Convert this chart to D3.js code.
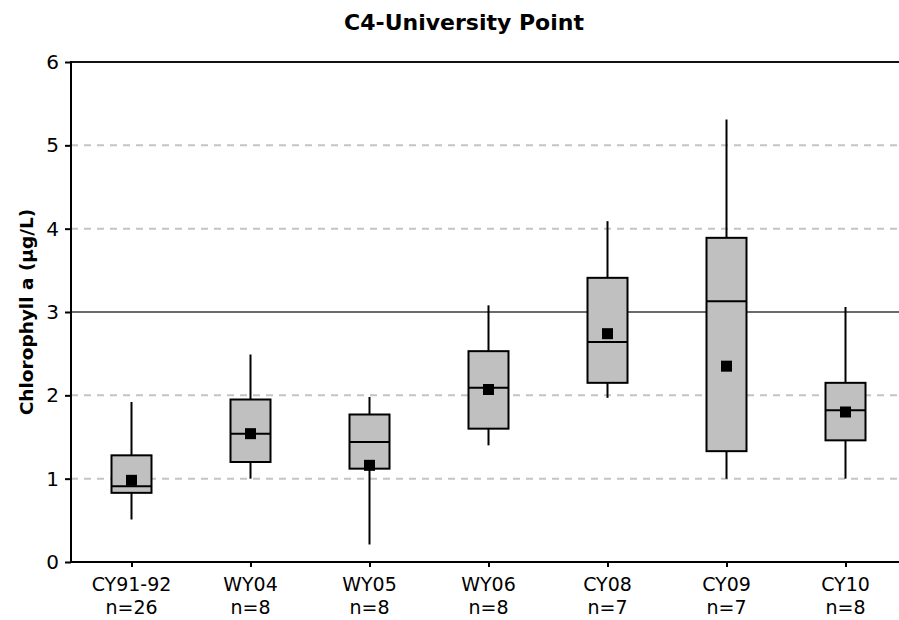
<!DOCTYPE html>
<html>
<head>
<meta charset="utf-8">
<script src="https://cdn.jsdelivr.net/npm/d3@7"></script>
<style>
  html, body { margin: 0; padding: 0; background: #fff; }
  svg { display: block; font-family: "DejaVu Sans", Verdana, sans-serif; }
</style>
</head>
<body>
<svg id="chart" width="899" height="620"></svg>
<script>
// Sampling periods and their sample counts
const periods = ["CY91-92", "WY04", "WY05", "WY06", "CY08", "CY09", "CY10"];
const sampleCounts = [26, 8, 8, 8, 7, 7, 8];

// Box-plot statistics, chlorophyll a (µg/L)
const whiskerLow  = [0.51, 1.00, 0.21, 1.40, 1.97, 1.00, 1.00];
const quartile1   = [0.83, 1.20, 1.12, 1.60, 2.15, 1.33, 1.46];
const medians     = [0.91, 1.54, 1.44, 2.09, 2.64, 3.13, 1.82];
const quartile3   = [1.28, 1.95, 1.77, 2.53, 3.41, 3.89, 2.15];
const whiskerHigh = [1.92, 2.49, 1.98, 3.08, 4.09, 5.31, 3.06];
const means       = [0.98, 1.54, 1.16, 2.07, 2.74, 2.35, 1.80];

const yTicks = [0, 1, 2, 3, 4, 5, 6];
const dashedGrid = [1, 2, 4, 5];
const referenceLevel = 3;

const svg = d3.select("#chart");
const plotLeft = 71, plotTop = 62, plotBottom = 562, plotRight = 899;

const x = d3.scalePoint().domain(periods).range([72, 905]).padding(0.5);
const y = d3.scaleLinear().domain([0, 6]).range([plotBottom, plotTop]);
const boxW = 40, meanSize = 11;

// Title
svg.append("text")
  .attr("x", 464).attr("y", 30)
  .attr("text-anchor", "middle")
  .attr("font-size", 22).attr("font-weight", "bold")
  .text("C4-University Point");

// Y-axis title
svg.append("text")
  .attr("transform", `translate(33,${(plotTop + plotBottom) / 2}) rotate(-90)`)
  .attr("text-anchor", "middle")
  .attr("font-size", 18.5).attr("font-weight", "bold")
  .text("Chlorophyll a (µg/L)");

// Dashed gridlines
svg.append("g").selectAll("line").data(dashedGrid).join("line")
  .attr("x1", plotLeft).attr("x2", plotRight)
  .attr("y1", d => y(d)).attr("y2", d => y(d))
  .attr("stroke", "#c4c4c4").attr("stroke-width", 2)
  .attr("stroke-dasharray", "7,6");

// Reference line and top border
svg.append("line")
  .attr("x1", plotLeft).attr("x2", plotRight)
  .attr("y1", y(referenceLevel)).attr("y2", y(referenceLevel))
  .attr("stroke", "#3a3a3a").attr("stroke-width", 1.5);
svg.append("line")
  .attr("x1", plotLeft).attr("x2", plotRight)
  .attr("y1", y(6)).attr("y2", y(6))
  .attr("stroke", "#111").attr("stroke-width", 2);

// Axes
const yAxis = svg.append("g")
  .attr("transform", `translate(${plotLeft},0)`)
  .call(d3.axisLeft(y).tickValues(yTicks).tickSize(6).tickPadding(6).tickFormat(d3.format("d")));
yAxis.select(".domain").remove();
yAxis.selectAll(".tick line").attr("stroke", "#000").attr("stroke-width", 2);
yAxis.selectAll(".tick text").attr("font-size", 20).attr("fill", "#000")
  .attr("font-family", "DejaVu Sans, Verdana, sans-serif");
svg.append("line")
  .attr("x1", plotLeft).attr("x2", plotLeft).attr("y1", plotTop - 1).attr("y2", plotBottom + 1)
  .attr("stroke", "#000").attr("stroke-width", 2);

const xAxis = svg.append("g")
  .attr("transform", `translate(0,${plotBottom})`)
  .call(d3.axisBottom(x).tickSize(5).tickFormat(""));
xAxis.select(".domain").remove();
xAxis.selectAll(".tick line").attr("stroke", "#000").attr("stroke-width", 2);
svg.append("line")
  .attr("x1", plotLeft - 1).attr("x2", plotRight).attr("y1", plotBottom).attr("y2", plotBottom)
  .attr("stroke", "#000").attr("stroke-width", 2);

const labels = svg.append("g").attr("font-size", 19).attr("text-anchor", "middle");
periods.forEach((p, i) => {
  const t = labels.append("text").attr("x", x(p));
  t.append("tspan").attr("x", x(p)).attr("y", 591).text(p);
  t.append("tspan").attr("x", x(p)).attr("y", 614).text("n=" + sampleCounts[i]);
});

// Boxes
const g = svg.append("g");
periods.forEach((p, i) => {
  const cx = x(p);
  g.append("line")
    .attr("x1", cx).attr("x2", cx)
    .attr("y1", y(whiskerHigh[i])).attr("y2", y(whiskerLow[i]))
    .attr("stroke", "#000").attr("stroke-width", 2);
  g.append("rect")
    .attr("x", cx - boxW / 2).attr("width", boxW)
    .attr("y", y(quartile3[i])).attr("height", y(quartile1[i]) - y(quartile3[i]))
    .attr("fill", "#c0c0c0").attr("stroke", "#000").attr("stroke-width", 2);
  g.append("line")
    .attr("x1", cx - boxW / 2).attr("x2", cx + boxW / 2)
    .attr("y1", y(medians[i])).attr("y2", y(medians[i]))
    .attr("stroke", "#000").attr("stroke-width", 2);
  g.append("rect")
    .attr("x", cx - meanSize / 2).attr("y", y(means[i]) - meanSize / 2)
    .attr("width", meanSize).attr("height", meanSize)
    .attr("fill", "#000");
});
</script>
</body>
</html>
